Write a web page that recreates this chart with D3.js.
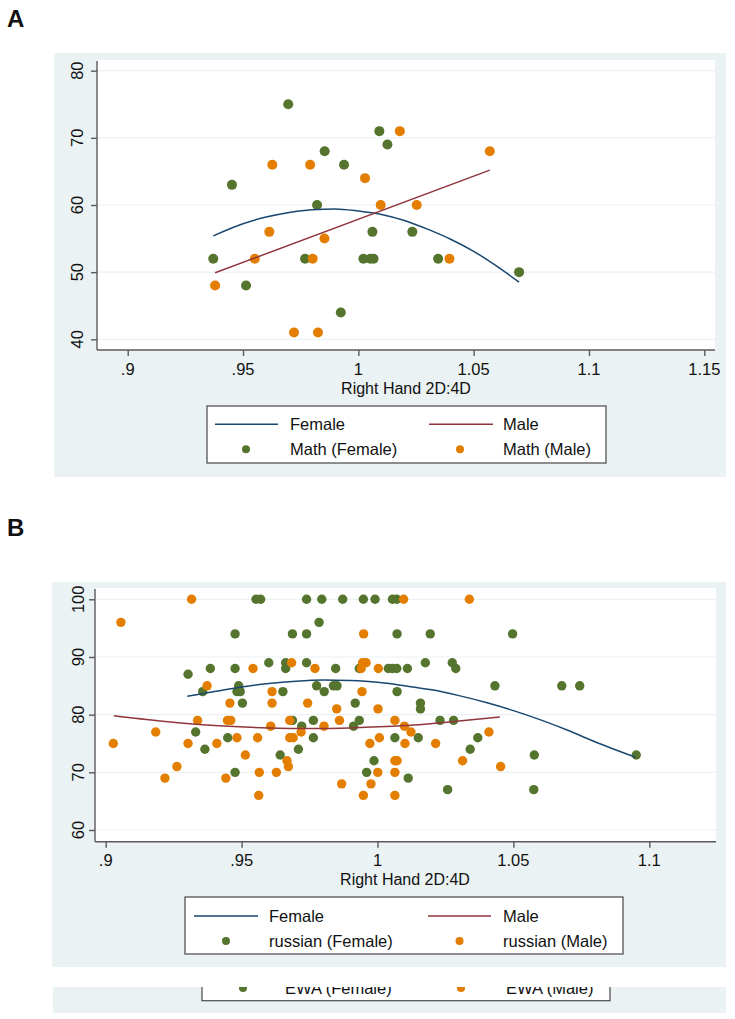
<!DOCTYPE html>
<html><head><meta charset="utf-8">
<script src="https://cdn.jsdelivr.net/npm/d3@7"></script>
<style>
body{margin:0;background:#fff}
svg{display:block}
text{font-family:"Liberation Sans",Arial,Helvetica,sans-serif;fill:#111}
</style>
</head><body>
<svg id="chart" width="735" height="1019"></svg>
<script>
// ---------- DATA ----------
const xTicksA = [0.9, 0.95, 1, 1.05, 1.1, 1.15];
const xTickLabelsA = [".9", ".95", "1", "1.05", "1.1", "1.15"];
const yTicksA = [40, 50, 60, 70, 80];

const mathFemale = [[0.9371,52],[0.9452,63],[0.9513,48],[0.9696,75],[0.9769,52],[0.9821,60],[0.9854,68],[0.9924,44],[0.9938,66],[1.0022,52],[1.0052,52],[1.0066,52],[1.0061,56],[1.0091,71],[1.0126,69],[1.0234,56],[1.0346,52],[1.0697,50]];
const mathMale = [[0.9379,48],[0.9551,52],[0.9614,56],[0.9627,66],[0.9721,41],[0.9791,66],[0.9802,52],[0.9825,41],[0.9853,55],[1.0029,64],[1.0097,60],[1.0180,71],[1.0253,60],[1.0395,52],[1.0570,68]];
const fitFemaleA = [[0.9371,55.4],[0.95,57.2],[0.96,58.2],[0.97,58.9],[0.98,59.3],[0.99,59.4],[1.0,59.1],[1.01,58.6],[1.02,57.7],[1.03,56.4],[1.04,54.9],[1.05,53.1],[1.06,50.9],[1.0697,48.5]];
const fitMaleA = [[0.9379,49.9],[1.057,65.2]];

const xTicksB = [0.9, 0.95, 1, 1.05, 1.1];
const xTickLabelsB = [".9", ".95", "1", "1.05", "1.1"];
const yTicksB = [60, 70, 80, 90, 100];

const russianFemale = [[0.9553,100],[0.9570,100],[0.9739,100],[0.9795,100],[0.9872,100],[0.9948,100],[0.9991,100],[1.0055,100],[1.0071,100],
[0.9785,96],
[0.9476,94],[0.9687,94],[0.9739,94],[1.0072,94],[1.0194,94],[1.0497,94],
[0.9600,89],[0.9662,89],[0.9739,89],[1.0176,89],[1.0275,89],
[0.9385,88],[0.9476,88],[0.9662,88],[0.9846,88],[0.9933,88],[1.0040,88],[1.0055,88],[1.0071,88],[1.0110,88],[1.0288,88],
[0.9303,87],
[0.9489,85],[0.9776,85],[0.9838,85],[0.9851,85],[1.0432,85],[1.0678,85],[1.0744,85],
[0.9357,84],[0.9483,84],[0.9495,84],[0.9652,84],[0.9804,84],[1.0072,84],
[0.9503,82],[0.9918,82],[1.0158,82],
[1.0158,81],
[0.9687,79],[0.9764,79],[0.9933,79],[1.0230,79],[1.0280,79],
[0.9721,78],[0.9912,78],
[0.9331,77],
[0.9449,76],[0.9764,76],[1.0064,76],[1.0150,76],[1.0369,76],
[0.9365,74],[0.9709,74],[1.0341,74],
[0.9642,73],[1.0577,73],[1.0952,73],
[0.9987,72],
[0.9476,70],[0.9960,70],
[1.0113,69],
[1.0258,67],[1.0575,67]];

const russianMale = [[0.9316,100],[1.0096,100],[1.0338,100],
[0.9056,96],
[0.9949,94],
[0.9684,89],[0.9945,89],[0.9958,89],
[0.9542,88],[0.9770,88],[0.9940,88],[1.0003,88],
[0.9373,85],
[0.9612,84],[0.9943,84],
[0.9457,82],[0.9612,82],[0.9743,82],
[0.9850,81],[1.0002,81],
[0.9338,79],[0.9448,79],[0.9460,79],[0.9677,79],[0.9860,79],[1.0064,79],
[0.9607,78],[0.9803,78],[1.0099,78],
[0.9184,77],[0.9719,77],[1.0123,77],[1.0410,77],
[0.9483,76],[0.9559,76],[0.9677,76],[0.9690,76],[1.0007,76],
[0.9028,75],[0.9303,75],[0.9409,75],[0.9972,75],[1.0101,75],[1.0214,75],
[0.9514,73],
[0.9667,72],[1.0064,72],[1.0072,72],[1.0313,72],
[0.9262,71],[0.9672,71],[1.0453,71],
[0.9565,70],[0.9628,70],[1.0001,70],[1.0064,70],
[0.9218,69],[0.9442,69],
[0.9868,68],[0.9976,68],
[0.9563,66],[0.9948,66],[1.0064,66]];

const fitFemaleB = [[0.930,83.2],[0.94,84.0],[0.95,84.8],[0.96,85.4],[0.97,85.8],[0.98,86.0],[0.99,85.9],[1.00,85.6],[1.01,85.0],[1.02,84.3],[1.03,83.3],[1.04,82.1],[1.05,80.7],[1.06,79.1],[1.07,77.3],[1.08,75.3],[1.095,72.6]];
const fitMaleB = [[0.903,79.8],[0.92,78.9],[0.94,78.1],[0.96,77.7],[0.975,77.6],[0.99,77.7],[1.01,78.1],[1.03,78.9],[1.045,79.6]];

const legendA = ["Female", "Male", "Math (Female)", "Math (Male)"];
const legendB = ["Female", "Male", "russian (Female)", "russian (Male)"];
const legendC = ["EWA (Female)", "EWA (Male)"];
const xTitle = "Right Hand 2D:4D";

// ---------- STYLE ----------
const C = {bg:"#eaf2f3", grid:"#eaf2f3", axis:"#5a5a5a", navy:"#1a476f", maroon:"#90353b", green:"#55752f", orange:"#e37e00"};
const FS = 16;

const svg = d3.select("#chart");

function panel(cfg) {
  const g = svg.append("g");
  g.append("rect").attr("x", cfg.bg[0]).attr("y", cfg.bg[1]).attr("width", cfg.bg[2]-cfg.bg[0]).attr("height", cfg.bg[3]-cfg.bg[1]).attr("fill", C.bg);
  const [pl, pt, pr, pb] = cfg.plot;
  g.append("rect").attr("x", pl).attr("y", pt).attr("width", pr-pl).attr("height", pb-pt).attr("fill", "#fff");
  const x = d3.scaleLinear().domain(cfg.xd).range(cfg.xr);
  const y = d3.scaleLinear().domain(cfg.yd).range(cfg.yr);
  // gridlines
  g.selectAll(".grid").data(cfg.yTicks).join("line")
    .attr("x1", pl+1).attr("x2", pr).attr("y1", d=>y(d)).attr("y2", d=>y(d))
    .attr("stroke", C.grid).attr("stroke-width", 1.2);
  // y axis
  const yAx = d3.axisLeft(y).tickValues(cfg.yTicks).tickSize(6).tickFormat("");
  const ya = g.append("g").attr("transform", `translate(${pl},0)`).call(yAx);
  ya.select(".domain").attr("stroke", C.axis).attr("stroke-width", 1.4).attr("d", `M0,${pt+1}V${pb}`);
  ya.selectAll(".tick line").attr("stroke", C.axis).attr("stroke-width", 1.4);
  g.selectAll(".ylab").data(cfg.yTicks).join("text")
    .attr("transform", d=>`translate(${cfg.yLabX},${y(d)}) rotate(-90)`)
    .attr("text-anchor", "middle").attr("dy", "0.36em").attr("font-size", FS+0.5).text(d=>d);
  // x axis
  const xAx = d3.axisBottom(x).tickValues(cfg.xTicks).tickSize(6).tickFormat("");
  const xa = g.append("g").attr("transform", `translate(0,${pb})`).call(xAx);
  xa.select(".domain").attr("d", `M${pl},0H${pr}`).attr("stroke", C.axis).attr("stroke-width", 1.4);
  xa.selectAll(".tick line").attr("stroke", C.axis).attr("stroke-width", 1.4);
  g.selectAll(".xlab").data(cfg.xTicks).join("text")
    .attr("x", d=>x(d)).attr("y", cfg.xLabY).attr("dy", "0.36em")
    .attr("text-anchor", "middle").attr("font-size", FS+0.5).text((d,i)=>cfg.xTickLabels[i]);
  g.append("text").attr("x", cfg.titleX).attr("y", cfg.titleY).attr("dy", "0.36em")
    .attr("text-anchor", "middle").attr("font-size", FS).text(xTitle);
  // points
  const pts = g.append("g");
  pts.selectAll(".pf").data(cfg.female).join("circle")
    .attr("cx", d=>x(d[0])).attr("cy", d=>y(d[1])).attr("r", cfg.r).attr("fill", C.green);
  pts.selectAll(".pm").data(cfg.male).join("circle")
    .attr("cx", d=>x(d[0])).attr("cy", d=>y(d[1])).attr("r", cfg.r).attr("fill", C.orange);
  // fit lines
  const line = d3.line().x(d=>x(d[0])).y(d=>y(d[1])).curve(d3.curveMonotoneX);
  g.append("path").attr("d", line(cfg.fitF)).attr("fill", "none").attr("stroke", C.navy).attr("stroke-width", 1.5);
  g.append("path").attr("d", line(cfg.fitM)).attr("fill", "none").attr("stroke", C.maroon).attr("stroke-width", 1.5);
  // legend
  const L = cfg.legend;
  const lg = g.append("g");
  lg.append("rect").attr("x", L.box[0]).attr("y", L.box[1]).attr("width", L.box[2]-L.box[0]).attr("height", L.box[3]-L.box[1])
    .attr("fill", "#fff").attr("stroke", "#555").attr("stroke-width", 1.3);
  lg.append("line").attr("x1", L.l1[0]).attr("x2", L.l1[1]).attr("y1", L.r1).attr("y2", L.r1).attr("stroke", C.navy).attr("stroke-width", 1.5);
  lg.append("line").attr("x1", L.l2[0]).attr("x2", L.l2[1]).attr("y1", L.r1).attr("y2", L.r1).attr("stroke", C.maroon).attr("stroke-width", 1.5);
  lg.append("circle").attr("cx", L.d1).attr("cy", L.r2).attr("r", 4).attr("fill", C.green);
  lg.append("circle").attr("cx", L.d2).attr("cy", L.r2).attr("r", 4).attr("fill", C.orange);
  const lt = [[L.t1, L.r1, cfg.labels[0]], [L.t2, L.r1, cfg.labels[1]], [L.t1, L.r2, cfg.labels[2]], [L.t2, L.r2, cfg.labels[3]]];
  lg.selectAll(".lt").data(lt).join("text").attr("x", d=>d[0]).attr("y", d=>d[1]).attr("dy", "0.36em")
    .attr("font-size", FS+0.5).text(d=>d[2]);
}

panel({
  bg:[54,53,726,477], plot:[97,60,715,350],
  xd:[0.9,1.15], xr:[127.7,704.3], yd:[40,80], yr:[339.3,70.7],
  xTicks:xTicksA, xTickLabels:xTickLabelsA, yTicks:yTicksA, yLabX:77, xLabY:369.5, titleX:406, titleY:388,
  female:mathFemale, male:mathMale, fitF:fitFemaleA, fitM:fitMaleA, r:5,
  labels:legendA,
  legend:{box:[207,406,606,463], r1:424.3, r2:449.3, l1:[215,278], l2:[429,493], t1:290, t2:503, d1:246, d2:460}
});

panel({
  bg:[52,582,726,967], plot:[95,588,716,841.7],
  xd:[0.9,1.1], xr:[105.7,649.3], yd:[60,100], yr:[830,599.3],
  xTicks:xTicksB, xTickLabels:xTickLabelsB, yTicks:yTicksB, yLabX:78, xLabY:860.5, titleX:405, titleY:879,
  female:russianFemale, male:russianMale, fitF:fitFemaleB, fitM:fitMaleB, r:4.7,
  labels:legendB,
  legend:{box:[185,897,623,954], r1:916, r2:941, l1:[194,258], l2:[428,491], t1:269, t2:503, d1:226, d2:459.5}
});

// lower cut-off strip (part of a further panel)
const strip = {x0:53, y0:987, x1:726, y1:1013};
const defs = svg.append("defs");
defs.append("clipPath").attr("id", "stripClip").append("rect")
  .attr("x", strip.x0).attr("y", strip.y0).attr("width", strip.x1-strip.x0).attr("height", strip.y1-strip.y0);
const sg = svg.append("g").attr("clip-path", "url(#stripClip)");
sg.append("rect").attr("x", strip.x0).attr("y", strip.y0).attr("width", strip.x1-strip.x0).attr("height", strip.y1-strip.y0).attr("fill", C.bg);
sg.append("rect").attr("x", 202).attr("y", 940).attr("width", 408).attr("height", 1000.7-940).attr("fill", "#fff").attr("stroke", "#555").attr("stroke-width", 1.3);
sg.append("circle").attr("cx", 243).attr("cy", 988).attr("r", 4).attr("fill", C.green);
sg.append("circle").attr("cx", 461).attr("cy", 988).attr("r", 4).attr("fill", C.orange);
sg.selectAll(".ct").data([[285, legendC[0]], [506, legendC[1]]]).join("text")
  .attr("x", d=>d[0]).attr("y", 988.5).attr("dy", "0.36em").attr("font-size", FS+0.5).text(d=>d[1]);

// panel letters
svg.selectAll(".plab").data([["A", 18], ["B", 527]]).join("text")
  .attr("x", 7).attr("y", d=>d[1]).attr("dy", "0.36em").attr("font-size", 24).attr("font-weight", "bold").attr("fill", "#000").text(d=>d[0]);
</script>
</body></html>
